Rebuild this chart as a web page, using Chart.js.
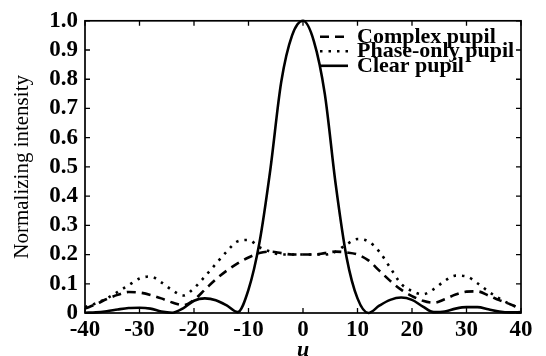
<!DOCTYPE html>
<html>
<head>
<meta charset="utf-8">
<script src="https://cdn.jsdelivr.net/npm/chart.js@4.4.0/dist/chart.umd.min.js"></script>
<style>
  html, body { margin: 0; padding: 0; background: #fff; }
  #myChart { display: block; }
</style>
</head>
<body>
<canvas id="myChart" width="546" height="356"></canvas>
<script>
// u positions (shared by all three curves)
var u_values = [-40,-38,-36,-34,-32,-30,-28,-26,-24,-22,-20,-18,-16,-14,-12,-10,-8,-6,-4,-2,
	0,2,4,6,8,10,12,14,16,18,20,22,24,26,28,30,32,34,36,38,40];

var complex_pupil = [0.015,0.03,0.048,0.062,0.072,0.07,0.062,0.05,0.036,0.027,0.045,0.08,0.115,0.145,0.17,0.19,0.205,0.21,0.205,0.2,
	0.2,0.2,0.205,0.21,0.207,0.2,0.18,0.145,0.11,0.08,0.058,0.042,0.035,0.047,0.063,0.073,0.074,0.06,0.044,0.03,0.015];

var phase_only_pupil = [0.02,0.033,0.05,0.072,0.095,0.118,0.125,0.105,0.078,0.06,0.085,0.125,0.168,0.21,0.245,0.25,0.225,0.21,0.2,0.2,
	0.2,0.2,0.2,0.21,0.235,0.253,0.245,0.21,0.155,0.1,0.075,0.064,0.082,0.11,0.128,0.125,0.102,0.074,0.05,0.03,0.015];

var clear_pupil = [0.001,0.002,0.006,0.012,0.017,0.018,0.015,0.005,0.001,0.016,0.042,0.05,0.044,0.026,0.003,0.08,0.24,0.49,0.79,0.95,
	1.0,0.93,0.75,0.44,0.19,0.05,0.0,0.025,0.045,0.053,0.045,0.022,0.003,0.005,0.015,0.02,0.02,0.013,0.005,0.002,0.003];

var series_names = ["Complex pupil", "Phase-only pupil", "Clear pupil"];
var x_ticks = [-40,-30,-20,-10,0,10,20,30,40];
var y_ticks = [0,0.1,0.2,0.3,0.4,0.5,0.6,0.7,0.8,0.9,1.0];

function to_points(ys) {
	return ys.map(function(y, i) { return {x: u_values[i], y: y}; });
}

var serif = "'Liberation Serif', 'Times New Roman', serif";

// box round the plot with inward ticks, like the original figure
var frame_plugin = {
	id: 'boxframe',
	afterDraw: function(chart) {
		var c = chart.ctx, a = chart.chartArea;
		var xs = chart.scales.x, ys = chart.scales.y;
		var t = 5;
		c.save();
		c.setLineDash([]);
		c.strokeStyle = '#000';
		c.lineWidth = 1.7;
		c.strokeRect(a.left, a.top, a.right - a.left, a.bottom - a.top);
		c.lineWidth = 1.3;
		c.beginPath();
		x_ticks.forEach(function(v) {
			var px = xs.getPixelForValue(v);
			c.moveTo(px, a.bottom); c.lineTo(px, a.bottom - t);
			c.moveTo(px, a.top); c.lineTo(px, a.top + t);
		});
		y_ticks.forEach(function(v) {
			var py = ys.getPixelForValue(v);
			c.moveTo(a.left, py); c.lineTo(a.left + t, py);
			c.moveTo(a.right, py); c.lineTo(a.right - t, py);
		});
		c.stroke();
		c.restore();
	}
};

// legend drawn inside the plot, top right
var legend_plugin = {
	id: 'inlegend',
	afterDraw: function(chart) {
		var c = chart.ctx, a = chart.chartArea;
		var x0 = a.right - 201, x1 = a.right - 173, tx = a.right - 164;
		var base = a.top + 22;
		c.save();
		chart.data.datasets.forEach(function(ds, i) {
			var by = base + i * 14.5;
			c.beginPath();
			c.setLineDash(ds.borderDash || []);
			c.lineWidth = ds.borderWidth;
			c.strokeStyle = '#000';
			c.moveTo(x0, by - 6);
			c.lineTo(x1, by - 6);
			c.stroke();
			c.setLineDash([]);
			c.fillStyle = '#000';
			c.font = 'bold 22px ' + serif;
			c.textBaseline = 'alphabetic';
			c.fillText(ds.label, tx, by);
		});
		c.restore();
	}
};

var ctx = document.getElementById("myChart");
var myChart = new Chart(ctx, {
	type: 'line',
	data: {
		datasets: [{
			label: series_names[0],
			data: to_points(complex_pupil),
			borderColor: '#000',
			borderWidth: 2.6,
			borderDash: [9, 6],
			pointRadius: 0,
			cubicInterpolationMode: 'monotone',
			clip: 4
		}, {
			label: series_names[1],
			data: to_points(phase_only_pupil),
			borderColor: '#000',
			borderWidth: 2.6,
			borderDash: [2.5, 6],
			pointRadius: 0,
			cubicInterpolationMode: 'monotone',
			clip: 4
		}, {
			label: series_names[2],
			data: to_points(clear_pupil),
			borderColor: '#000',
			borderWidth: 2.6,
			pointRadius: 0,
			cubicInterpolationMode: 'monotone',
			clip: 4
		}]
	},
	options: {
		responsive: false,
		animation: false,
		layout: { padding: { top: 17, right: 25, left: 0, bottom: 0 } },
		plugins: {
			legend: { display: false },
			tooltip: { enabled: false }
		},
		scales: {
			x: {
				type: 'linear',
				min: -40,
				max: 40,
				afterFit: function(s) { s.height = 43; },
				afterBuildTicks: function(s) { s.ticks = x_ticks.map(function(v) { return {value: v}; }); },
				grid: { display: false, drawTicks: false },
				border: { display: false },
				ticks: {
					color: '#000',
					padding: 3,
					autoSkip: false,
					maxRotation: 0,
					font: { family: serif, size: 23, weight: 'bold' }
				},
				title: {
					display: true,
					text: 'u',
					color: '#000',
					padding: { top: 0, bottom: -8 },
					font: { family: serif, size: 22, weight: 'bold', style: 'italic' }
				}
			},
			y: {
				min: 0,
				max: 1,
				afterFit: function(s) { s.width = 85; },
				afterBuildTicks: function(s) { s.ticks = y_ticks.map(function(v) { return {value: v}; }); },
				grid: { display: false, drawTicks: false },
				border: { display: false },
				ticks: {
					color: '#000',
					padding: 7,
					autoSkip: false,
					font: { family: serif, size: 23, weight: 'bold' },
					callback: function(v) { return v === 0 ? '0' : v.toFixed(1); }
				},
				title: {
					display: true,
					text: 'Normalizing intensity',
					color: '#000',
					padding: { top: 10, bottom: 0 },
					font: { family: serif, size: 21 }
				}
			}
		}
	},
	plugins: [frame_plugin, legend_plugin]
});
</script>
</body>
</html>
